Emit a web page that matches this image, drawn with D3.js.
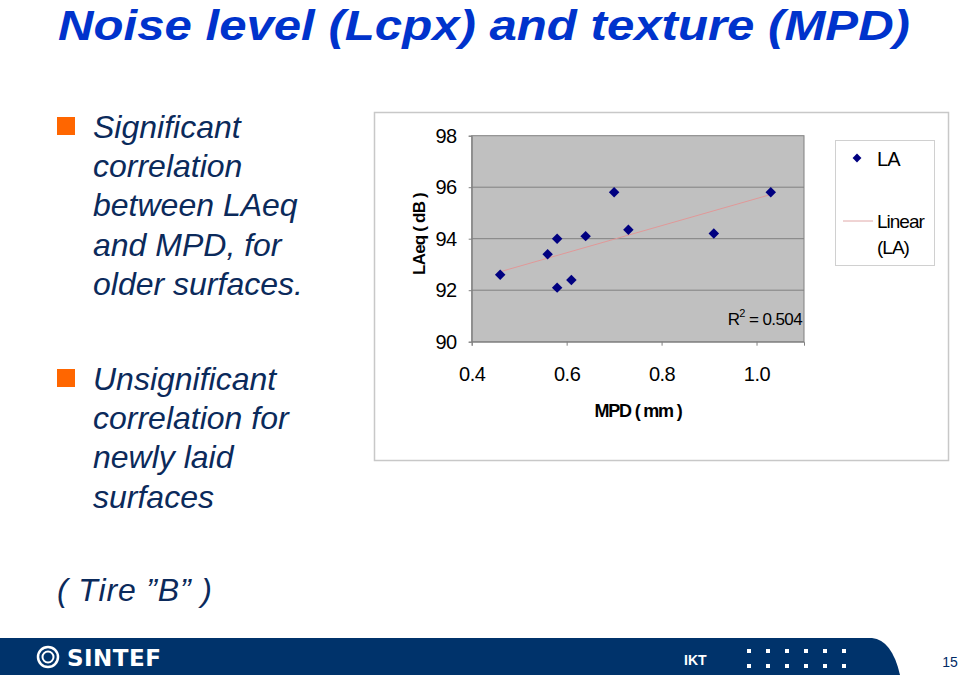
<!DOCTYPE html>
<html><head><meta charset="utf-8">
<script src="https://cdn.jsdelivr.net/npm/d3@7"></script>
<style>
html,body{margin:0;padding:0;background:#fff;}
svg{display:block;font-family:"Liberation Sans",Arial,sans-serif;}
</style></head>
<body>
<script>
const mpd = [0.46, 0.56, 0.58, 0.58, 0.61, 0.64, 0.70, 0.73, 0.91, 1.03];
const laeq = [92.6, 93.4, 94.0, 92.1, 92.4, 94.1, 95.8, 94.35, 94.2, 95.8];
const xTicks = [0.4, 0.6, 0.8, 1.0];
const yTicks = [90, 92, 94, 96, 98];
const rSquaredLabel = "0.504";
const seriesName = "LA";

const W = 960, H = 677;
const svg = d3.select("body").append("svg").attr("width", W).attr("height", H);

// Slide title
svg.append("text").attr("x", 58).attr("y", 40)
  .attr("font-size", 43).attr("font-weight", "bold").attr("font-style", "italic")
  .attr("fill", "#0033cc").attr("textLength", 852).attr("lengthAdjust", "spacingAndGlyphs")
  .text("Noise level (Lcpx) and texture (MPD)");

// Bullets
const textColor = "#0b2a5b";
function bullet(y) {
  svg.append("rect").attr("x", 57).attr("y", y).attr("width", 18).attr("height", 18).attr("fill", "#ff6600");
}
function lines(arr, x, y0, dy) {
  arr.forEach((t, i) => svg.append("text").attr("x", x).attr("y", y0 + i * dy)
    .attr("font-size", 32).attr("font-style", "italic").attr("fill", textColor).text(t));
}
bullet(117);
lines(["Significant", "correlation", "between LAeq", "and MPD, for", "older surfaces."], 93, 138, 39.2);
bullet(369);
lines(["Unsignificant", "correlation for", "newly laid", "surfaces"], 93, 390, 39.2);
svg.append("text").attr("x", 57).attr("y", 601).attr("font-size", 32).attr("font-style", "italic")
  .attr("fill", textColor).attr("textLength", 155).attr("lengthAdjust", "spacing")
  .text("( Tire  \u201DB\u201D )");

// Chart frame
svg.append("rect").attr("x", 374.5).attr("y", 112.5).attr("width", 574).attr("height", 348)
  .attr("fill", "#fff").attr("stroke", "#c8c8c8").attr("stroke-width", 1.5);

const pl = 471.7, pr = 804, pt = 135.7, pb = 341.7;
const x = d3.scaleLinear().domain([0.4, 1.1]).range([pl, pr]);
const y = d3.scaleLinear().domain([90, 98]).range([pb, pt]);

svg.append("rect").attr("x", pl).attr("y", pt).attr("width", pr - pl).attr("height", pb - pt)
  .attr("fill", "#c0c0c0");
// gridlines
svg.append("g").selectAll("line").data(yTicks.slice(1, -1)).join("line")
  .attr("x1", pl).attr("x2", pr).attr("y1", d => y(d)).attr("y2", d => y(d))
  .attr("stroke", "#808080").attr("stroke-width", 1);
svg.append("rect").attr("x", pl).attr("y", pt).attr("width", pr - pl).attr("height", pb - pt)
  .attr("fill", "none").attr("stroke", "#808080").attr("stroke-width", 1);

// axes
const xAxis = d3.axisBottom(x).tickValues(xTicks).tickFormat(d3.format(".1f")).tickSize(4).tickPadding(21);
const gx = svg.append("g").attr("transform", `translate(0,${pb})`).call(xAxis);
gx.select(".domain").attr("stroke", "#808080");
gx.selectAll(".tick line").attr("stroke", "#808080");
gx.selectAll("text").attr("font-size", 20).attr("fill", "#000").attr("font-family", "Liberation Sans, Arial, sans-serif").attr("letter-spacing", -0.5);

const yAxis = d3.axisLeft(y).tickValues(yTicks).tickSize(3).tickPadding(12);
const gy = svg.append("g").attr("transform", `translate(${pl},0)`).call(yAxis);
gy.select(".domain").attr("stroke", "#808080");
gy.selectAll(".tick line").attr("stroke", "#808080");
gy.selectAll("text").attr("font-size", 20).attr("fill", "#000").attr("font-family", "Liberation Sans, Arial, sans-serif").attr("letter-spacing", -0.5);

// axis titles
svg.append("text").attr("x", 638).attr("y", 417).attr("text-anchor", "middle")
  .attr("font-size", 18).attr("font-weight", "bold").attr("letter-spacing", -1.2).text("MPD ( mm )");
svg.append("text").attr("transform", "translate(425,234) rotate(-90)").attr("text-anchor", "middle")
  .attr("font-size", 17).attr("font-weight", "bold").attr("letter-spacing", -0.8).text("LAeq ( dB )");

// linear regression from data
const n = mpd.length;
const mx = d3.mean(mpd), my = d3.mean(laeq);
let sxy = 0, sxx = 0;
for (let i = 0; i < n; i++) { sxy += (mpd[i] - mx) * (laeq[i] - my); sxx += (mpd[i] - mx) ** 2; }
const slope = sxy / sxx, icpt = my - slope * mx;
const [x0, x1] = d3.extent(mpd);
svg.append("line").attr("x1", x(x0)).attr("y1", y(icpt + slope * x0))
  .attr("x2", x(x1)).attr("y2", y(icpt + slope * x1))
  .attr("stroke", "#e09898").attr("stroke-width", 1);

// points
const diamond = d3.symbol().type(d3.symbolDiamond2).size(70);
svg.append("g").selectAll("path").data(mpd.map((d, i) => [d, laeq[i]])).join("path")
  .attr("d", diamond).attr("transform", d => `translate(${x(d[0])},${y(d[1])})`)
  .attr("fill", "#000080");

// R^2 label
const rt = svg.append("text").attr("x", 802).attr("y", 325).attr("text-anchor", "end")
  .attr("font-size", 17).attr("letter-spacing", -0.6);
rt.append("tspan").text("R");
rt.append("tspan").attr("font-size", 11).attr("dy", -8).text("2");
rt.append("tspan").attr("dy", 8).text(" = " + rSquaredLabel);

// legend
svg.append("rect").attr("x", 835.5).attr("y", 140.5).attr("width", 99).attr("height", 125)
  .attr("fill", "#fff").attr("stroke", "#d0d0d0").attr("stroke-width", 1);
svg.append("path").attr("d", d3.symbol().type(d3.symbolDiamond2).size(50))
  .attr("transform", "translate(857,158)").attr("fill", "#000080");
svg.append("text").attr("x", 877).attr("y", 166).attr("font-size", 20).attr("letter-spacing", -0.8).text(seriesName);
svg.append("line").attr("x1", 843).attr("x2", 873).attr("y1", 221).attr("y2", 221)
  .attr("stroke", "#e0a8a8").attr("stroke-width", 1);
svg.append("text").attr("x", 877).attr("y", 228).attr("font-size", 19).attr("letter-spacing", -1).text("Linear");
svg.append("text").attr("x", 877).attr("y", 254).attr("font-size", 19).attr("letter-spacing", -1).text("(" + seriesName + ")");

// footer band
const band = "#00336b";
svg.append("path").attr("d", "M0,638 L872,638 Q892,640 900,675 L0,675 Z").attr("fill", band);
// logo
svg.append("circle").attr("cx", 48).attr("cy", 657).attr("r", 10).attr("fill", "none").attr("stroke", "#fff").attr("stroke-width", 2.5);
svg.append("circle").attr("cx", 48).attr("cy", 657).attr("r", 5.5).attr("fill", "none").attr("stroke", "#fff").attr("stroke-width", 2);
svg.append("text").attr("x", 67).attr("y", 666).attr("font-size", 23).attr("font-weight", "bold")
  .attr("fill", "#fff").attr("font-family", "DejaVu Sans, sans-serif").attr("letter-spacing", 0.5).text("SINTEF");
svg.append("text").attr("x", 684).attr("y", 665).attr("font-size", 14).attr("font-weight", "bold")
  .attr("fill", "#fff").text("IKT");
const dotsX = d3.range(6).map(i => 747 + i * 19);
[649, 664].forEach(dy => {
  svg.append("g").selectAll("rect").data(dotsX).join("rect")
    .attr("x", d => d).attr("y", dy).attr("width", 4).attr("height", 4).attr("fill", "#fff");
});
svg.append("text").attr("x", 950).attr("y", 667).attr("text-anchor", "middle").attr("font-size", 14)
  .attr("fill", "#002a66").text("15");
</script>
</body></html>
